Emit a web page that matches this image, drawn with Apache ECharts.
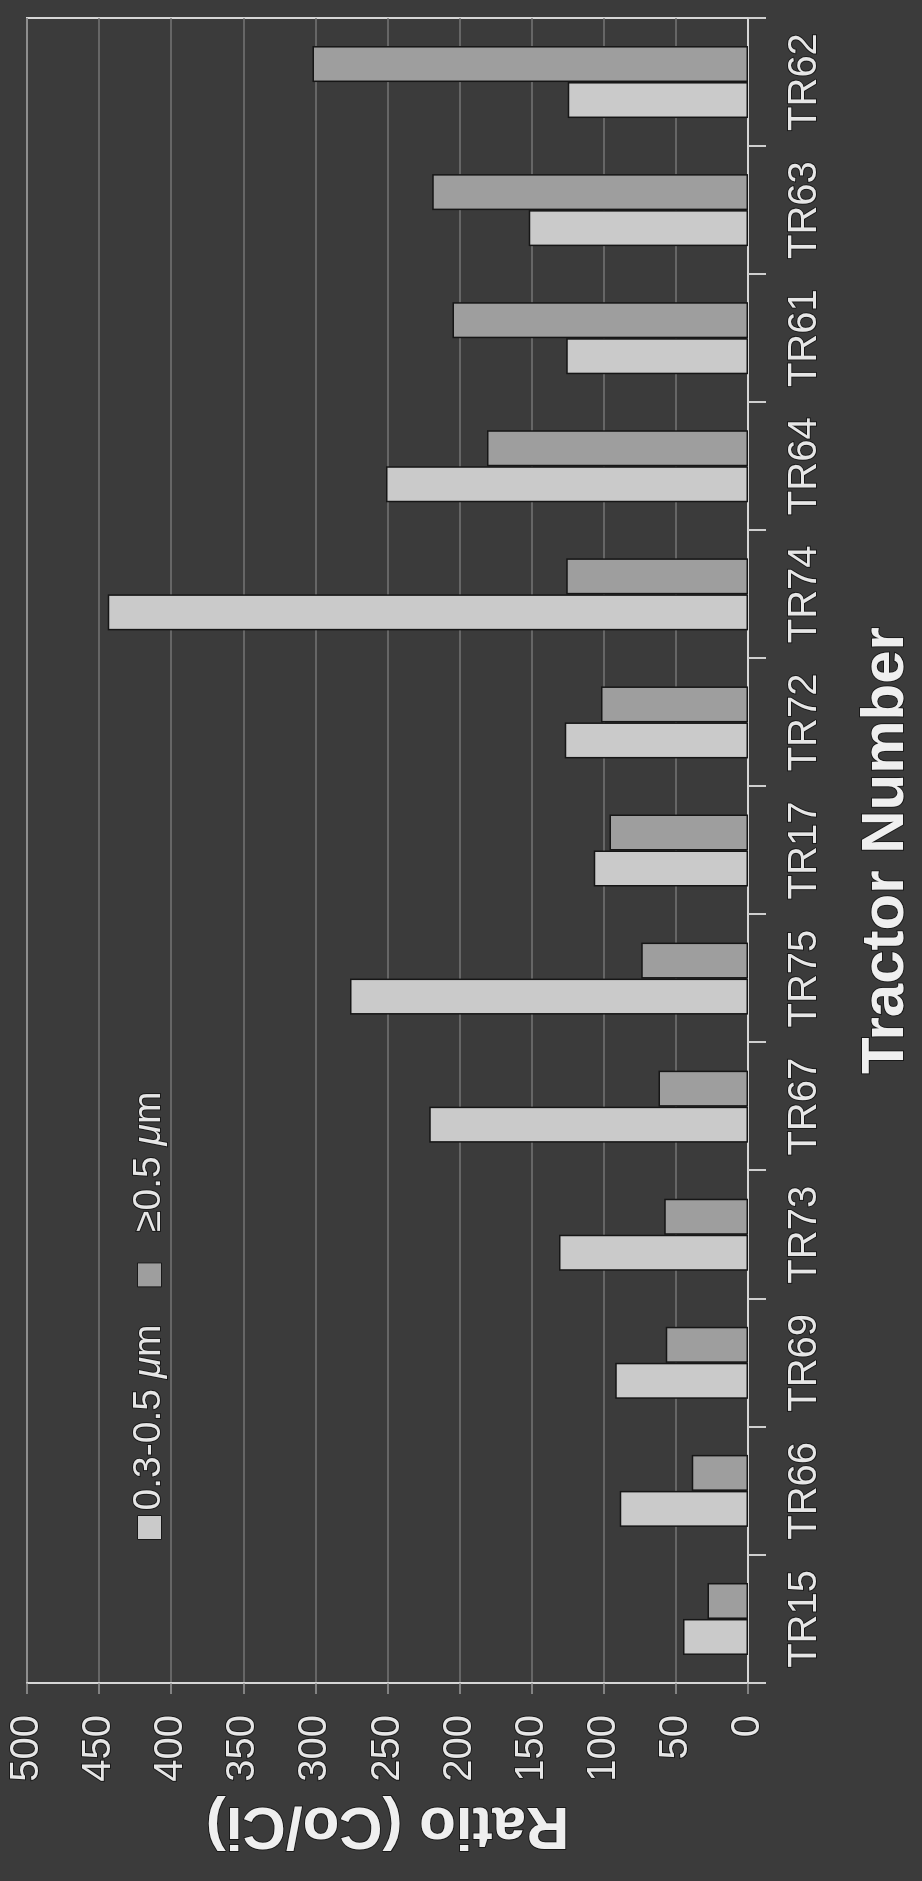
<!DOCTYPE html>
<html>
<head>
<meta charset="utf-8">
<script src="https://cdn.jsdelivr.net/npm/echarts@6/dist/echarts.min.js"></script>
<style>
html, body { margin: 0; padding: 0; width: 922px; height: 1881px; overflow: hidden; background: #3b3b3b; }
#chart { position: absolute; left: 0; top: 0; width: 1881px; height: 922px;
  transform-origin: 0 0; transform: translateY(1881px) rotate(-90deg); }
</style>
</head>
<body>
<div id="chart"></div>
<script>
const categories = ['TR15','TR66','TR69','TR73','TR67','TR75','TR17','TR72','TR74','TR64','TR61','TR63','TR62'];
const fineRatio = [45, 89, 92, 131, 221, 276, 107, 127, 444, 251, 126, 152, 125];   // 0.3-0.5 µm
const coarseRatio = [28, 39, 57, 58, 62, 74, 96, 102, 126, 181, 205, 219, 302];     // ≥0.5 µm
const seriesNames = ['0.3-0.5 μm', '≥0.5 μm'];
const valueTicks = { min: 0, max: 500, interval: 50 };
const xTitle = 'Tractor Number';
const yTitle = 'Ratio (Co/Ci)';

const FONT = '"Liberation Sans", Arial, sans-serif';
const textColor = '#e6e6e6';
const halo = { textBorderColor: 'rgba(0,0,0,0.55)', textBorderWidth: 2 };

const chart = echarts.init(document.getElementById('chart'), null, { renderer: 'canvas' });
chart.setOption({
  backgroundColor: '#3b3b3b',
  animation: false,
  grid: { left: 198, right: 18, top: 27, bottom: 170, show: true,
          borderColor: '#d6d6d6', borderWidth: 2, backgroundColor: 'transparent' },
  legend: {
    left: 336, top: 124, itemWidth: 24, itemHeight: 24, itemGap: 36,
    icon: 'rect',
    itemStyle: { borderColor: '#1a1a1a', borderWidth: 1 },
    textStyle: Object.assign({ color: textColor, fontSize: 39, lineHeight: 40, fontFamily: FONT,
      rich: {
        i: Object.assign({ fontStyle: 'italic', fontSize: 39, lineHeight: 40, color: textColor, fontFamily: FONT }, halo),
        sp: { width: 26, fontSize: 39, lineHeight: 40 }
      } }, halo),
    formatter: function (name) {
      const t = name.replace('μ', '{i|μ}');
      return name.charAt(0) === '≥' ? '{sp| }' + t : t;
    },
    data: seriesNames
  },
  xAxis: {
    type: 'category',
    data: categories,
    axisLine: { show: true, lineStyle: { color: '#d6d6d6', width: 2 } },
    axisTick: { show: true, length: 18, lineStyle: { color: '#cfcfcf', width: 2 } },
    axisLabel: Object.assign({ color: textColor, fontSize: 40, fontFamily: FONT, margin: 37 }, halo),
    name: xTitle,
    nameLocation: 'middle',
    nameGap: 108,
    nameTextStyle: Object.assign({ color: '#efefef', fontSize: 60, fontWeight: 'bold', fontFamily: FONT }, halo)
  },
  yAxis: {
    type: 'value',
    min: valueTicks.min, max: valueTicks.max, interval: valueTicks.interval,
    axisLine: { show: true, lineStyle: { color: '#d6d6d6', width: 2 } },
    axisTick: { show: true, length: 11, lineStyle: { color: '#9a9a9a', width: 1.5 } },
    axisLabel: Object.assign({ color: textColor, fontSize: 40, fontFamily: FONT, margin: 32 }, halo),
    splitLine: { show: true, lineStyle: { color: '#767676', width: 1.5 } },
    name: yTitle,
    nameLocation: 'middle',
    nameRotate: 90,
    nameGap: 112,
    nameTextStyle: Object.assign({ color: '#efefef', fontSize: 60, fontWeight: 'bold', fontFamily: FONT }, halo)
  },
  series: [
    {
      name: seriesNames[0], type: 'bar', data: fineRatio,
      barWidth: 36, barGap: '0%',
      itemStyle: { color: '#cacaca', borderColor: '#161616', borderWidth: 1.5 }
    },
    {
      name: seriesNames[1], type: 'bar', data: coarseRatio,
      barWidth: 36, barGap: '0%',
      itemStyle: { color: '#9e9e9e', borderColor: '#161616', borderWidth: 1.5 }
    }
  ]
});
</script>
</body>
</html>
